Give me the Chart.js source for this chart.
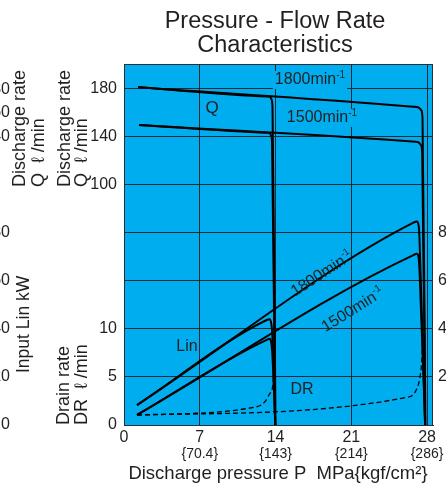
<!DOCTYPE html>
<html>
<head>
<meta charset="utf-8">
<script src="https://cdn.jsdelivr.net/npm/chart.js@4.4.0/dist/chart.umd.min.js"></script>
<style>
html, body { margin: 0; padding: 0; background: #fff; overflow: hidden; }
canvas { display: block; }
</style>
</head>
<body>
<canvas id="myChart" width="446" height="488"></canvas>
<script>
// ticks
const pressureTicks = [0, 7, 14, 21, 28];
const kgfLabels = ['{70.4}', '{143}', '{214}', '{286}'];
const qTicks = [100, 140, 180];
const drTicks = [0, 5, 10];
const linTicks = [20, 40, 60, 80];
const gridSteps = [0, 5, 10, 15, 20, 25, 30, 35];

// Q (l/min), relief set at 28 MPa and at 14 MPa
const q1800P = [1.3, 26.74, 27.2, 27.45, 27.58, 27.85];
const q1800 = [181.4, 165.2, 164.6, 162.5, 156, -100];
const q1800LowP = [1.3, 13.19, 13.48, 13.62, 13.72, 14.0];
const q1800Low = [181.4, 173.8, 173.5, 171.5, 165, -100];
const q1500P = [1.4, 26.9, 27.2, 27.42, 27.55, 27.82];
const q1500 = [150, 136, 135.6, 133.5, 127, -100];
const q1500LowP = [1.4, 13.19, 13.45, 13.6, 13.68, 13.96];
const q1500Low = [150, 143.5, 143.2, 141, 135, -100];

// Input Lin (kW)
const lin1800P = [1.2, 26.74, 27.05, 27.22, 27.3, 27.82];
const lin1800 = [8.3, 84.3, 84.8, 83.2, 78, 0];
const lin1800LowP = [1.2, 13.19, 13.45, 13.6, 13.7, 13.98];
const lin1800Low = [8.3, 43.75, 44.1, 42.5, 38, 0];
const lin1500P = [1.2, 26.74, 27.05, 27.22, 27.3, 27.82];
const lin1500 = [4.2, 70.8, 71.3, 69.8, 65, 0];
const lin1500LowP = [1.2, 13.19, 13.45, 13.6, 13.7, 13.98];
const lin1500Low = [4.2, 35.5, 35.9, 34.5, 30, 0];

// Drain DR (l/min)
const drP = [1.2, 26.43, 27.0, 27.3, 27.5, 27.65];
const dr = [1.04, 2.95, 3.65, 4.7, 6.5, 10];
const drLowP = [1.2, 12.26, 13.03, 13.49, 13.8, 13.9];
const drLow = [1.04, 1.9, 2.43, 3.3, 4.7, 10];

const FONT = '"Liberation Sans", Arial, Helvetica, sans-serif';
const INK = '#231f20';
const BLUE = '#00aeef';
const GRID = '#1b2733';

const ctx = document.getElementById('myChart').getContext('2d');

function curve(xs, ys, axis, dashed) {
    return {
        data: xs.map((x, i) => ({ x: x, y: ys[i] })),
        yAxisID: axis,
        borderColor: '#000',
        borderWidth: dashed ? 1.3 : 2,
        borderDash: dashed ? [5, 3] : [],
        pointRadius: 0,
        fill: false,
        cubicInterpolationMode: 'monotone'
    };
}

const datasets = [
    curve(q1800P, q1800, 'yQ'),
    curve(q1800LowP, q1800Low, 'yQ'),
    curve(q1500P, q1500, 'yQ'),
    curve(q1500LowP, q1500Low, 'yQ'),
    curve(lin1800P, lin1800, 'yLin'),
    curve(lin1800LowP, lin1800Low, 'yLin'),
    curve(lin1500P, lin1500, 'yLin'),
    curve(lin1500LowP, lin1500Low, 'yLin'),
    curve(drP, dr, 'yDR', true),
    curve(drLowP, drLow, 'yDR', true)
];

// "1800min-1" with a small raised -1
function speedText(c, text, cx, cy, mask) {
    c.font = '16px ' + FONT;
    const w1 = c.measureText(text + 'min').width;
    c.font = '10px ' + FONT;
    const w2 = c.measureText('-1').width;
    const x0 = cx - (w1 + w2) / 2;
    if (mask) {
        c.fillStyle = BLUE;
        c.fillRect(x0 - 2, cy - 9, w1 + w2 + 4, 18);
    }
    c.fillStyle = INK;
    c.textAlign = 'left';
    c.textBaseline = 'middle';
    c.font = '16px ' + FONT;
    c.fillText(text + 'min', x0, cy);
    c.font = '10px ' + FONT;
    c.fillText('-1', x0 + w1, cy - 5);
}

function vText(c, text, x, bottom, size) {
    c.save();
    c.translate(x, bottom);
    c.rotate(-Math.PI / 2);
    c.font = size + 'px ' + FONT;
    c.textAlign = 'left';
    c.textBaseline = 'middle';
    c.fillStyle = INK;
    c.fillText(text, 0, 0);
    c.restore();
}

const decor = {
    id: 'decor',
    beforeDraw(chart) {
        const a = chart.chartArea;
        const c = chart.ctx;
        c.save();
        c.fillStyle = BLUE;
        c.fillRect(a.left, a.top, a.right - a.left, a.bottom - a.top);
        c.restore();
    },
    afterDatasetsDraw(chart) {
        const c = chart.ctx;
        const a = chart.chartArea;
        const sx = chart.scales.x, sq = chart.scales.yQ, sl = chart.scales.yLin;
        c.save();
        // frame
        c.strokeStyle = '#2a2f36';
        c.lineWidth = 1;
        c.strokeRect(a.left + 0.5, a.top + 0.5, a.right - a.left - 1, a.bottom - a.top);

        // title
        c.fillStyle = INK;
        c.font = '23.5px ' + FONT;
        c.textAlign = 'center';
        c.textBaseline = 'alphabetic';
        c.fillText('Pressure - Flow Rate', 275, 28);
        c.fillText('Characteristics', 275, 52);

        // Q tick labels
        c.font = '16px ' + FONT;
        c.textAlign = 'right';
        c.textBaseline = 'middle';
        qTicks.forEach(v => c.fillText(String(v), 117, sq.getPixelForValue(v)));

        // Lin tick labels (cut by the right edge)
        c.textAlign = 'left';
        linTicks.forEach(v => c.fillText(String(v), 438, sl.getPixelForValue(v)));

        // pieces of the neighbouring chart at the left edge
        c.textAlign = 'right';
        [[80, 90], [60, 113], [40, 137]].forEach(p => c.fillText(String(p[0]), 10, p[1]));
        [80, 60, 40, 20, 0].forEach(v => c.fillText(String(v), 10, sl.getPixelForValue(v)));
        vText(c, 'Discharge rate', 20, 187, 18);
        vText(c, 'Q  \u2113 /min', 39, 187, 18);
        vText(c, 'Input Lin kW', 24, 373, 17.5);

        // axis titles
        vText(c, 'Discharge rate', 65, 187, 18);
        vText(c, 'Q  \u2113 /min', 82, 187, 18);
        vText(c, 'Drain rate', 64, 425, 18);
        vText(c, 'DR  \u2113 /min', 82, 425, 18);

        // kgf/cm2 labels
        c.font = '14px ' + FONT;
        c.textAlign = 'center';
        c.fillStyle = INK;
        kgfLabels.forEach((t, i) => c.fillText(t, sx.getPixelForValue(pressureTicks[i + 1]), 454));

        c.font = '18.5px ' + FONT;
        c.fillText('Discharge pressure P  MPa{kgf/cm\u00b2}', 278, 474);

        // curve labels
        c.font = '17px ' + FONT;
        c.fillText('Q', 212, 108);
        c.font = '16px ' + FONT;
        c.fillText('Lin', 187, 347);
        c.fillText('DR', 302, 390);

        speedText(c, '1800', 310, 80, true);
        speedText(c, '1500', 322, 118, true);

        c.save();
        c.translate(322, 274);
        c.rotate(-33 * Math.PI / 180);
        speedText(c, '1800', 0, 0, false);
        c.restore();
        c.save();
        c.translate(353, 310);
        c.rotate(-32 * Math.PI / 180);
        speedText(c, '1500', 0, 0, false);
        c.restore();

        c.restore();
    }
};

const myChart = new Chart(ctx, {
    type: 'line',
    data: { datasets: datasets },
    plugins: [decor],
    options: {
        responsive: false,
        animation: false,
        events: [],
        layout: { padding: { left: 0, right: 13, top: 64, bottom: 0 } },
        plugins: {
            legend: { display: false },
            tooltip: { enabled: false }
        },
        scales: {
            x: {
                type: 'linear',
                min: 0,
                max: 28.55,
                afterBuildTicks: s => { s.ticks = pressureTicks.map(v => ({ value: v })); },
                afterFit: s => { s.height = 63; },
                grid: { color: GRID, lineWidth: 1, drawTicks: false },
                border: { color: GRID },
                ticks: {
                    color: INK,
                    font: { family: FONT, size: 16 },
                    padding: 3,
                    maxRotation: 0,
                    autoSkip: false
                }
            },
            yDR: {
                position: 'left',
                min: 0,
                max: 37.6,
                afterBuildTicks: s => { s.ticks = gridSteps.map(v => ({ value: v })); },
                afterFit: s => { s.width = 124; },
                grid: { color: GRID, lineWidth: 1, drawTicks: false },
                border: { color: GRID },
                ticks: {
                    color: INK,
                    font: { family: FONT, size: 16 },
                    padding: 7,
                    callback: v => drTicks.includes(v) ? String(v) : ''
                }
            },
            yQ: { display: false, min: -100, max: 200.8 },
            yLin: { display: false, min: 0, max: 150.4 }
        }
    }
});
</script>
</body>
</html>
